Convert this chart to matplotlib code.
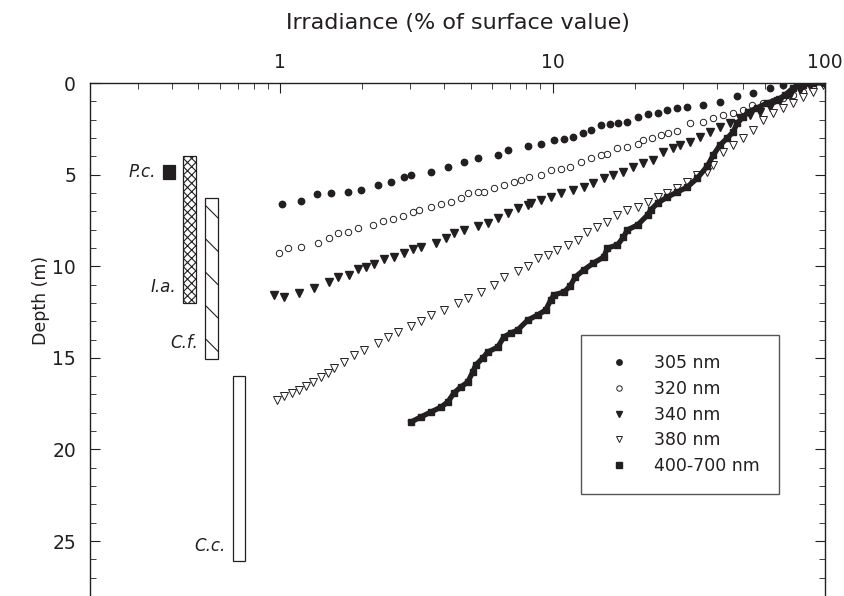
import matplotlib.pyplot as plt
from matplotlib import ticker

plt.rcParams['font.family'] = ['DejaVu Sans']
plt.rcParams['hatch.linewidth'] = 0.8

ink = '#231f20'

# irradiance (% of surface value) vs depth (m)
irr_305 = [100, 88.1, 78.9, 70.2, 62.9, 54.5, 47.6, 41.2, 35.7, 31.2, 28.7, 26.4, 24.3, 22.3,
           20.5, 18.8, 17.4, 16.3, 15.0, 13.8, 12.9, 11.9, 11.0, 10.1, 9.03, 8.10, 6.84, 6.29,
           5.31, 4.72, 4.12, 3.57, 3.02, 2.84, 2.55, 2.29, 1.98, 1.77, 1.54, 1.36, 1.19, 1.01]
dep_305 = [0.0, 0.02, 0.03, 0.11, 0.27, 0.55, 0.71, 1.04, 1.20, 1.31, 1.36, 1.47, 1.64, 1.69,
           1.86, 2.13, 2.18, 2.24, 2.29, 2.57, 2.73, 2.95, 3.06, 3.11, 3.33, 3.44, 3.66, 3.93,
           4.09, 4.31, 4.59, 4.86, 5.02, 5.13, 5.40, 5.57, 5.84, 5.95, 6.00, 6.06, 6.44, 6.60]

irr_320 = [98.4, 90.4, 83.0, 76.4, 70.2, 64.5, 59.3, 54.0, 50.1, 46.0, 42.3, 38.9, 35.7, 32.0,
           28.7, 26.6, 24.9, 23.2, 21.5, 20.5, 18.8, 17.3, 15.9, 15.0, 13.8, 12.7, 11.6, 10.7,
           9.84, 9.03, 8.17, 7.63, 7.20, 6.62, 6.08, 5.58, 5.31, 4.88, 4.60, 4.23, 3.89, 3.57,
           3.23, 3.07, 2.82, 2.59, 2.38, 2.19, 1.93, 1.77, 1.63, 1.51, 1.38, 1.19, 1.07, 0.99]
dep_320 = [0.0, 0.22, 0.49, 0.66, 0.82, 0.98, 1.09, 1.20, 1.47, 1.64, 1.75, 1.91, 2.13, 2.18,
           2.62, 2.73, 2.84, 3.00, 3.11, 3.33, 3.49, 3.55, 3.88, 3.93, 4.09, 4.31, 4.59, 4.69,
           4.75, 5.02, 5.13, 5.29, 5.40, 5.57, 5.73, 5.95, 5.95, 6.00, 6.28, 6.50, 6.60, 6.77,
           6.93, 7.04, 7.26, 7.42, 7.53, 7.75, 7.91, 8.13, 8.19, 8.46, 8.73, 8.95, 9.01, 9.28]

irr_340 = [98.4, 88.1, 80.9, 74.5, 68.4, 62.9, 57.8, 53.1, 48.8, 44.9, 41.2, 37.9, 34.8, 32.0,
           29.4, 27.7, 25.5, 23.4, 21.5, 19.8, 18.2, 16.7, 15.4, 14.1, 13.0, 11.9, 10.7, 9.84,
           9.03, 8.30, 8.10, 7.44, 6.84, 6.29, 5.78, 5.31, 4.72, 4.34, 4.05, 3.73, 3.28, 3.07,
           2.84, 2.62, 2.40, 2.21, 2.07, 1.93, 1.79, 1.63, 1.51, 1.33, 1.17, 1.03, 0.95]
dep_340 = [0.0, 0.16, 0.38, 0.66, 0.93, 1.31, 1.58, 1.75, 1.91, 2.18, 2.40, 2.67, 2.95, 3.22,
           3.38, 3.55, 3.77, 4.20, 4.37, 4.59, 4.86, 5.02, 5.19, 5.46, 5.68, 5.84, 6.00, 6.22,
           6.39, 6.55, 6.66, 6.82, 7.10, 7.37, 7.64, 7.81, 8.02, 8.19, 8.46, 8.73, 8.95, 9.06,
           9.28, 9.50, 9.61, 9.88, 10.04, 10.15, 10.48, 10.59, 10.86, 11.19, 11.46, 11.68, 11.57]

irr_380 = [98.4, 90.4, 83.0, 76.4, 70.2, 64.5, 59.3, 54.5, 50.1, 46.0, 42.3, 38.9, 37.0, 34.0,
           31.2, 28.7, 26.4, 24.3, 22.3, 20.5, 18.8, 17.3, 15.9, 14.6, 13.4, 12.4, 11.4, 10.4,
           9.59, 8.81, 8.10, 7.44, 6.62, 6.08, 5.45, 4.88, 4.49, 3.99, 3.57, 3.28, 3.02, 2.71,
           2.49, 2.29, 2.03, 1.87, 1.71, 1.58, 1.50, 1.41, 1.32, 1.24, 1.17, 1.10, 1.03, 0.97]
dep_380 = [0.11, 0.49, 0.76, 1.09, 1.36, 1.64, 2.02, 2.57, 3.00, 3.38, 3.77, 4.48, 4.86, 5.02,
           5.40, 5.73, 6.00, 6.22, 6.50, 6.77, 6.93, 7.21, 7.59, 7.86, 8.13, 8.57, 8.84, 9.12,
           9.39, 9.55, 9.99, 10.26, 10.59, 11.03, 11.41, 11.74, 12.01, 12.39, 12.66, 12.99,
           13.26, 13.59, 13.86, 14.19, 14.57, 14.85, 15.23, 15.56, 15.83, 16.05, 16.32, 16.54,
           16.76, 16.92, 17.09, 17.30]

irr_par = [100, 90.4, 83.0, 76.4, 71.3, 66.7, 61.3, 56.3, 52.2, 50.1, 47.6, 46.0, 43.8, 41.2,
           38.9, 37.0, 34.0, 31.2, 28.7, 26.4, 24.3, 22.9, 22.3, 20.5, 18.8, 18.2, 17.3, 15.9,
           15.4, 14.1, 13.0, 12.1, 11.6, 11.0, 10.1, 9.84, 9.43, 8.81, 8.10, 7.44, 7.02, 6.62,
           6.29, 5.78, 5.54, 5.22, 5.09, 4.88, 4.60, 4.34, 4.12, 3.89, 3.57, 3.28, 3.02]
dep_par = [0.0, 0.0, 0.11, 0.27, 0.66, 0.93, 1.09, 1.36, 1.58, 1.86, 2.18, 2.67, 3.00, 3.38,
           3.93, 4.53, 5.19, 5.68, 5.95, 6.22, 6.55, 6.93, 7.21, 7.75, 8.02, 8.41, 8.84, 9.01,
           9.50, 9.83, 10.21, 10.59, 11.08, 11.41, 11.57, 11.84, 12.39, 12.66, 12.94, 13.48,
           13.65, 13.86, 14.41, 14.68, 15.01, 15.39, 15.77, 16.32, 16.59, 16.92, 17.41, 17.69,
           17.96, 18.23, 18.50]

# depth ranges of the organisms
species = ['P.c.', 'I.a.', 'C.f.', 'C.c.']
depth_top = [4.5, 4.0, 6.3, 16.0]
depth_bottom = [5.25, 12.0, 15.05, 26.1]
bar_left = [0.37, 0.44, 0.53, 0.67]
bar_right = [0.41, 0.49, 0.59, 0.74]
hatches = ['', 'xxxx', '\\', '']
faces = [ink, 'white', 'white', 'white']

fig = plt.figure(figsize=(8.45, 5.96), dpi=100)
ax = fig.add_axes([0.1065, 0.0, 0.8698, 0.8607])

ax.plot(irr_305, dep_305, 'o', ms=4.6, color=ink, label='305 nm')
ax.plot(irr_320, dep_320, 'o', ms=4.6, mfc='white', mec=ink, mew=0.7, label='320 nm')
ax.plot(irr_340, dep_340, 'v', ms=5.2, color=ink, label='340 nm')
ax.plot(irr_380, dep_380, 'v', ms=5.2, mfc='white', mec=ink, mew=0.7, label='380 nm')
ax.plot(irr_par, dep_par, '-', lw=3.8, color=ink)
ax.plot(irr_par, dep_par, 's', ms=5, color=ink, label='400-700 nm')

for name, top, bot, x0, x1, h, fc in zip(species, depth_top, depth_bottom,
                                         bar_left, bar_right, hatches, faces):
    ax.bar(x0, bot - top, width=x1 - x0, bottom=top, align='edge',
           facecolor=fc, edgecolor=ink, linewidth=0.9, hatch=h or None)
    ax.annotate(name, (x0, max(bot - 0.85, (top + bot) / 2)), xytext=(-5, 0),
                textcoords='offset points', ha='right', va='center',
                style='italic', fontsize=12, color=ink)

ax.set_xscale('log')
ax.set_xlim(0.2, 100)
ax.set_ylim(28, 0)

ax.xaxis.set_major_locator(ticker.FixedLocator([1, 10, 100]))
ax.xaxis.set_major_formatter(ticker.FuncFormatter(lambda v, p: f'{v:g}'))
ax.xaxis.set_minor_locator(ticker.LogLocator(subs=range(2, 10)))
ax.xaxis.set_minor_formatter(ticker.NullFormatter())
ax.yaxis.set_major_locator(ticker.MultipleLocator(5))
ax.yaxis.set_minor_locator(ticker.MultipleLocator(1))

ax.tick_params(axis='both', which='both', direction='in', colors=ink, labelcolor=ink)
ax.tick_params(axis='x', which='both', top=True, bottom=False, labeltop=True, labelbottom=False)
ax.tick_params(axis='x', which='major', length=7, labelsize=13.5, pad=8)
ax.tick_params(axis='x', which='minor', length=4)
ax.tick_params(axis='y', which='both', left=True, right=True)
ax.tick_params(axis='y', which='major', length=7, labelsize=13.5, pad=10)
ax.tick_params(axis='y', which='minor', length=4)

for side in ['top', 'left', 'right']:
    ax.spines[side].set_color(ink)
    ax.spines[side].set_linewidth(1)
ax.spines['bottom'].set_visible(False)

ax.xaxis.set_label_position('top')
ax.set_xlabel('Irradiance (% of surface value)', fontsize=16, color=ink)
ax.xaxis.set_label_coords(0.5, 1.105)
ax.set_ylabel('Depth (m)', fontsize=12.5, color=ink)
ax.yaxis.set_label_coords(-0.055, 0.577)

leg = ax.legend(loc='upper left', bbox_to_anchor=(0.668, 0.509), borderaxespad=0,
                fontsize=12.5, fancybox=False, framealpha=1, edgecolor='#555555',
                borderpad=1.1, labelspacing=0.45, handletextpad=0.9, handlelength=2.2,
                markerscale=0.85)
leg.get_frame().set_linewidth(1)
for t in leg.get_texts():
    t.set_color(ink)

fig.savefig('out.png', dpi=100)
